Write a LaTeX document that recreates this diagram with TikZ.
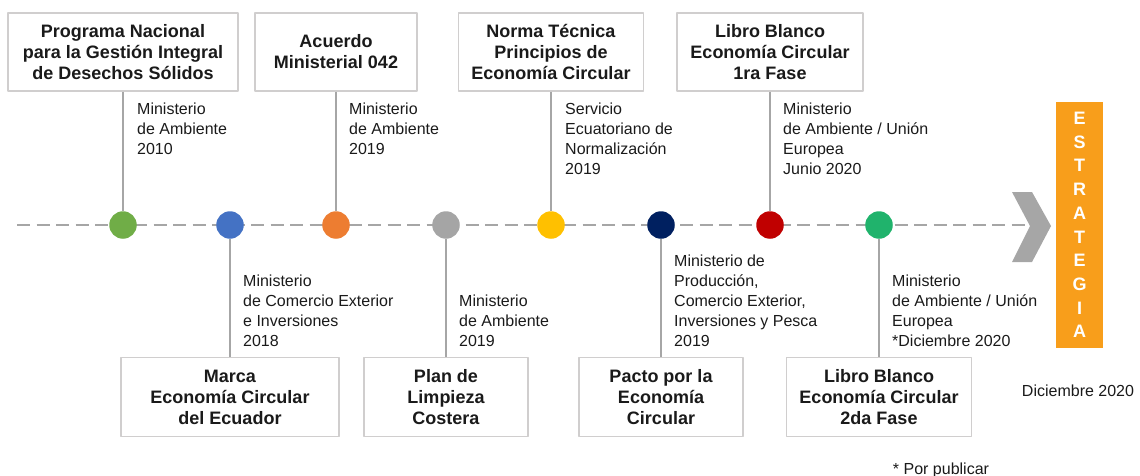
\documentclass[tikz,border=0pt]{standalone}
\usepackage{fontspec}
\setmainfont{Liberation Sans}
\definecolor{cborde}{HTML}{D0CECE}
\definecolor{clinea}{HTML}{A6A6A6}
\definecolor{ctexto}{HTML}{1A1A1A}
\definecolor{cverde}{HTML}{70AD47}
\definecolor{cazul}{HTML}{4472C4}
\definecolor{cnaranja}{HTML}{ED7D31}
\definecolor{cgris}{HTML}{A5A5A5}
\definecolor{camarillo}{HTML}{FFC000}
\definecolor{cmarino}{HTML}{002060}
\definecolor{crojo}{HTML}{C00000}
\definecolor{cverdedos}{HTML}{20B36C}
\definecolor{cbarra}{HTML}{F89E1B}
\begin{document}
\begin{tikzpicture}[x=1pt,y=-1pt, line join=round, text=ctexto,
    caja/.style={draw=cborde, line width=1.5pt, fill=white, align=center, inner sep=0pt,
        font=\fontsize{18}{21}\selectfont\bfseries},
    nota/.style={align=left, inner sep=0pt, font=\fontsize{16}{20}\selectfont},
    tallo/.style={draw=clinea, line width=1.6pt},
    punto/.style={circle, minimum size=27.5pt, inner sep=0pt}]
    \def\ty{225} \def\ya{52} \def\yb{397} % lineas de tiempo y cajas
    \useasboundingbox (0,0) rectangle (1140,476);
    \coordinate (ini) at (17,\ty);
    \coordinate (fin) at (1030,\ty);
    \draw[clinea, line width=1.5pt, dash pattern=on 13pt off 6.5pt] (ini) -- (fin);
    \fill[clinea] (1012,192) -- (1032,192) -- (1051,226) -- (1032,262) -- (1012,262) -- (1030,226) -- cycle;
    % hitos
    \node[punto, fill=cverde] (p1) at (123,\ty) {};
    \node[punto, fill=cazul] (p2) at (230,\ty) {};
    \node[punto, fill=cnaranja] (p3) at (336,\ty) {};
    \node[punto, fill=cgris] (p4) at (446,\ty) {};
    \node[punto, fill=camarillo] (p5) at (551,\ty) {};
    \node[punto, fill=cmarino] (p6) at (661,\ty) {};
    \node[punto, fill=crojo] (p7) at (770,\ty) {};
    \node[punto, fill=cverdedos] (p8) at (879,\ty) {};
    % cajas de arriba
    \node[caja, minimum width=230pt, minimum height=78pt] (b1) at (123,\ya) {Programa Nacional\\para la Gestión Integral\\de Desechos Sólidos};
    \node[caja, minimum width=162pt, minimum height=78pt] (b3) at (336,\ya) {Acuerdo\\Ministerial 042};
    \node[caja, minimum width=185pt, minimum height=78pt] (b5) at (551,\ya) {Norma Técnica\\Principios de\\Economía Circular};
    \node[caja, minimum width=186pt, minimum height=78pt] (b7) at (770,\ya) {Libro Blanco\\Economía Circular\\1ra Fase};
    % cajas de abajo
    \node[caja, minimum width=218pt, minimum height=79pt] (b2) at (230,\yb) {Marca\\Economía Circular\\del Ecuador};
    \node[caja, minimum width=164pt, minimum height=79pt] (b4) at (446,\yb) {Plan de\\Limpieza\\Costera};
    \node[caja, minimum width=164pt, minimum height=79pt] (b6) at (661,\yb) {Pacto por la\\Economía\\Circular};
    \node[caja, minimum width=185pt, minimum height=79pt] (b8) at (879,\yb) {Libro Blanco\\Economía Circular\\2da Fase};
    \foreach \i in {1,...,8} \draw[tallo] (b\i) -- (p\i);
    % notas
    \node[nota, anchor=north west] (n1) at (137,103) {Ministerio\\de Ambiente\\2010};
    \node[nota, anchor=north west] (n3) at (349,103) {Ministerio\\de Ambiente\\2019};
    \node[nota, anchor=north west] (n5) at (565,103) {Servicio\\Ecuatoriano de\\Normalización\\2019};
    \node[nota, anchor=north west] (n7) at (783,103) {Ministerio\\de Ambiente / Unión\\Europea\\Junio 2020};
    \node[nota, anchor=south west] (n2) at (243,347) {Ministerio\\de Comercio Exterior\\e Inversiones\\2018};
    \node[nota, anchor=south west] (n4) at (459,347) {Ministerio\\de Ambiente\\2019};
    \node[nota, anchor=south west] (n6) at (674,347) {Ministerio de\\Producción,\\Comercio Exterior,\\Inversiones y Pesca\\2019};
    \node[nota, anchor=south west] (n8) at (892,347) {Ministerio\\de Ambiente / Unión\\Europea\\*Diciembre 2020};
    % estrategia
    \node[fill=cbarra, text=white, minimum width=47pt, minimum height=246pt, inner sep=0pt, align=center,
        font=\fontsize{18}{23.7}\selectfont\bfseries] (estr) at (1079.5,225) {E\\S\\T\\R\\A\\T\\E\\G\\I\\A};
    \node[nota] (fecha) at (1078,391) {Diciembre 2020};
    \node[nota, anchor=base] (pub) at (941,474) {* Por publicar};
\end{tikzpicture}
\end{document}
